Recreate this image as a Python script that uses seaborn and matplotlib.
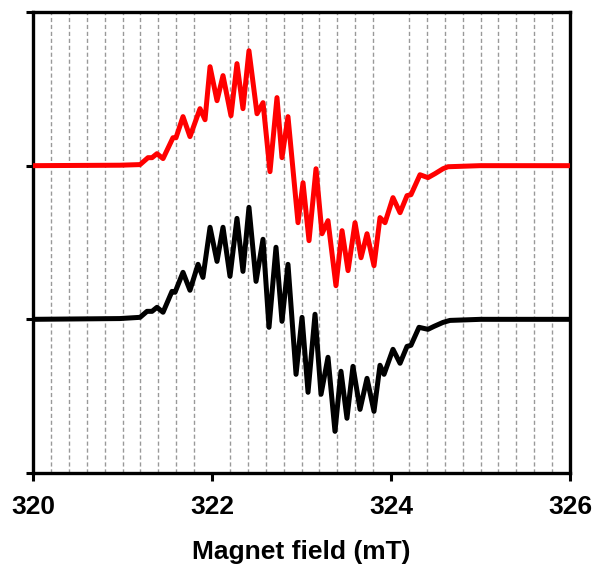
import matplotlib
matplotlib.use("Agg")
import matplotlib.pyplot as plt
from matplotlib.ticker import MultipleLocator
import seaborn as sns
import pandas as pd

# Magnetic field (mT) and signal (arbitrary units, baseline = 0)
red_field = [320.00, 320.97, 321.196, 321.285, 321.330, 321.385, 321.453, 321.564, 321.598,
             321.676, 321.754, 321.866, 321.922, 321.978, 322.056, 322.123, 322.212, 322.279,
             322.346, 322.413, 322.503, 322.570, 322.648, 322.726, 322.782, 322.849, 322.961,
             323.017, 323.084, 323.162, 323.229, 323.296, 323.385, 323.453, 323.520, 323.598,
             323.665, 323.732, 323.810, 323.877, 323.933, 324.022, 324.101, 324.179, 324.223,
             324.324, 324.413, 324.492, 324.581, 324.637, 324.994, 326.00]
red_signal = [0.000, 0.003, 0.007, 0.052, 0.052, 0.078, 0.046, 0.182, 0.182,
              0.319, 0.189, 0.371, 0.299, 0.644, 0.423, 0.586, 0.325, 0.664,
              0.371, 0.748, 0.338, 0.410, -0.039, 0.443, 0.052, 0.319, -0.371,
              -0.111, -0.488, -0.020, -0.443, -0.358, -0.781, -0.423, -0.683, -0.371,
              -0.599, -0.443, -0.651, -0.338, -0.371, -0.208, -0.306, -0.195, -0.189,
              -0.059, -0.078, -0.052, -0.020, -0.007, 0.000, 0.000]

black_field = [320.00, 320.97, 321.196, 321.274, 321.330, 321.385, 321.453, 321.553, 321.587,
               321.676, 321.754, 321.844, 321.899, 321.978, 322.056, 322.123, 322.201, 322.279,
               322.346, 322.413, 322.492, 322.570, 322.637, 322.715, 322.782, 322.849, 322.939,
               323.006, 323.073, 323.151, 323.218, 323.296, 323.374, 323.441, 323.508, 323.575,
               323.654, 323.732, 323.810, 323.877, 323.922, 324.022, 324.101, 324.179, 324.223,
               324.313, 324.413, 324.480, 324.581, 324.659, 325.00, 326.00]
black_signal = [0.000, 0.005, 0.013, 0.052, 0.052, 0.078, 0.046, 0.182, 0.176,
                0.306, 0.189, 0.358, 0.273, 0.599, 0.377, 0.599, 0.280, 0.657,
                0.312, 0.729, 0.247, 0.521, -0.052, 0.469, -0.013, 0.358, -0.358,
                0.013, -0.475, 0.033, -0.488, -0.247, -0.729, -0.338, -0.644, -0.306,
                -0.586, -0.384, -0.599, -0.299, -0.358, -0.195, -0.286, -0.176, -0.169,
                -0.052, -0.065, -0.046, -0.020, -0.007, 0.000, 0.000]

x_ticks = [320, 322, 324, 326]
y_ticks = [0, 1, 2, 3]

sns.set_style("white")
plt.rcParams["font.family"] = ["Liberation Sans", "DejaVu Sans"]

fig = plt.figure(figsize=(5.95, 5.67), dpi=100)
ax = fig.add_axes([33 / 595, 1 - 473 / 567, (570 - 33) / 595, (473 - 12) / 567])

red_df = pd.DataFrame({"field": red_field, "signal": [v + 2 for v in red_signal]})
black_df = pd.DataFrame({"field": black_field, "signal": [v + 1 for v in black_signal]})

sns.lineplot(data=red_df, x="field", y="signal", ax=ax, color="#ff0000", linewidth=3.6,
             sort=False, solid_joinstyle="round", solid_capstyle="round", zorder=3)
sns.lineplot(data=black_df, x="field", y="signal", ax=ax, color="#000000", linewidth=3.6,
             sort=False, solid_joinstyle="round", solid_capstyle="round", zorder=3)

ax.set_xlim(320, 326)
ax.set_ylim(0, 3)
ax.set_xticks(x_ticks)
ax.set_xticklabels([str(t) for t in x_ticks], fontsize=19, fontweight="bold", color="black")
ax.set_yticks(y_ticks)
ax.set_yticklabels([str(t) for t in y_ticks], color="white", fontsize=14)
ax.xaxis.set_minor_locator(MultipleLocator(0.2))
ax.grid(False)
ax.grid(True, which="minor", axis="x", linestyle=(0, (3, 2)), color="#999999", linewidth=1.0, zorder=0)
ax.tick_params(axis="x", which="major", direction="out", length=6, width=2.2, pad=10,
               bottom=True, colors="black")
ax.tick_params(axis="x", which="minor", length=0)
ax.tick_params(axis="y", which="major", direction="out", length=5, width=2.2, left=True,
               color="black")
for s in ax.spines.values():
    s.set_linewidth(2.4)
    s.set_color("black")

ax.set_xlabel("Magnet field (mT)", fontsize=19, fontweight="bold", labelpad=15, color="black")
ax.set_ylabel("")

fig.savefig("out.png", dpi=100, facecolor="white")
